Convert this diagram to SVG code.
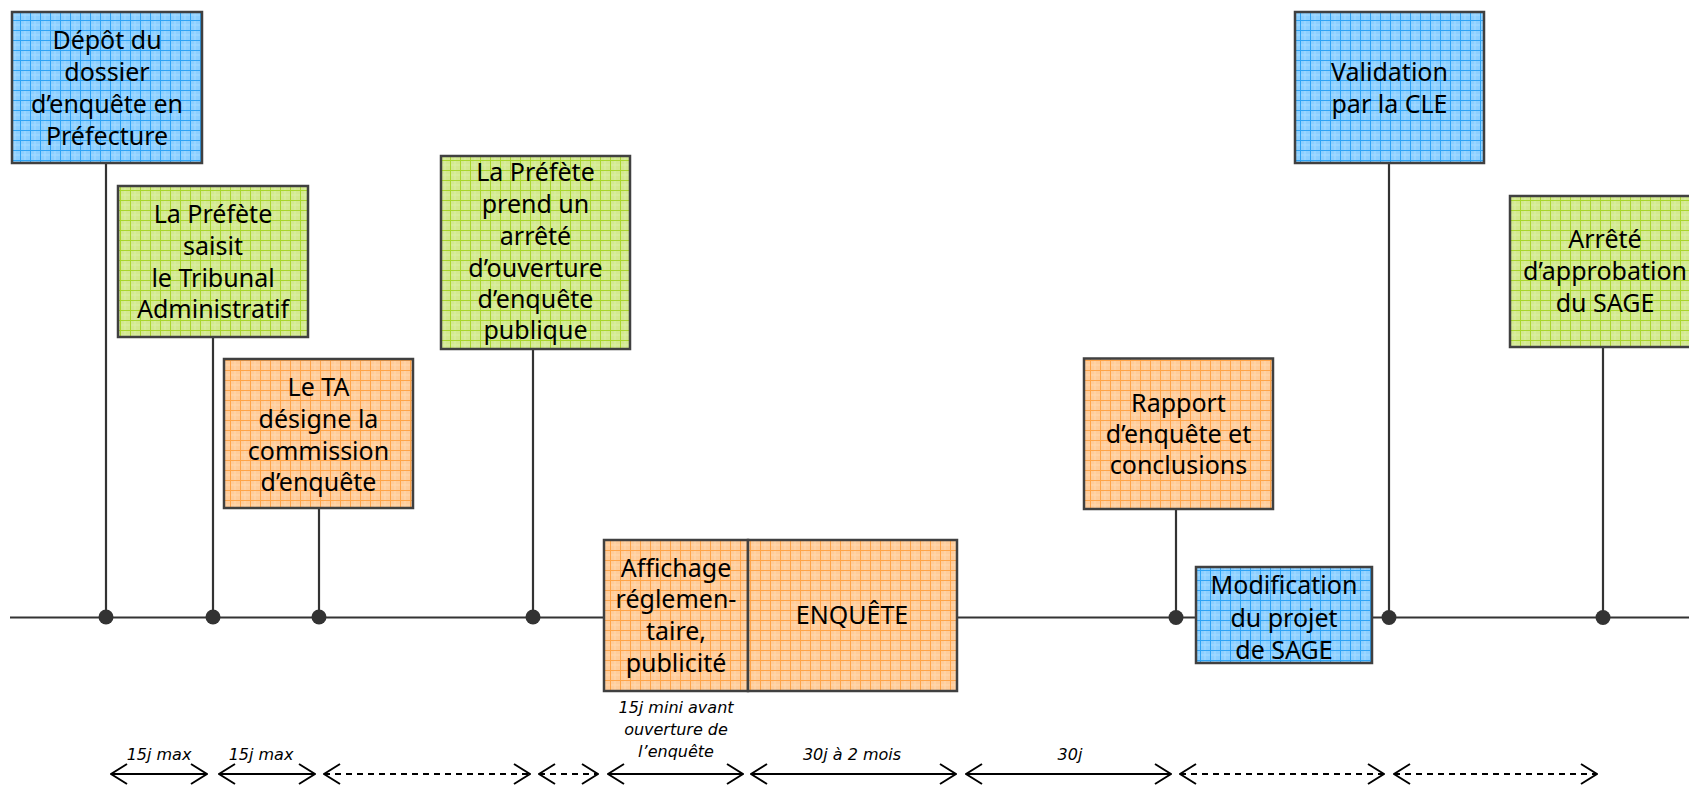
<svg xmlns="http://www.w3.org/2000/svg" width="1689" height="786" viewBox="0 0 1689 786">
<style>
  .box { stroke: #404040; stroke-width: 2.5; }
  .blue { fill: url(#gBlue); }
  .green { fill: url(#gGreen); }
  .orange { fill: url(#gOrange); }
  .t { font-family: "Noto Sans", "DejaVu Sans", sans-serif; font-size: 25px; fill: #000; text-anchor: middle; }
  .lbl { font-family: "DejaVu Sans", "Noto Sans", sans-serif; font-size: 16px; font-style: italic; fill: #000; text-anchor: middle; }
  .axis { stroke: #333; stroke-width: 2.2; fill: none; }
  .dot { fill: #333; }
  .arr { stroke: #000; stroke-width: 2; fill: none; marker-start: url(#ah); marker-end: url(#ah); }
  .dash { stroke-dasharray: 6 5; }
</style>
<defs>
  <pattern id="gBlue" width="10" height="10" patternUnits="userSpaceOnUse">
    <rect width="10" height="10" fill="#8ccfff"/>
    <path d="M0,5 H10 M5,0 V10" stroke="#a6dbff" stroke-width="1"/>
    <path d="M0,0.5 H10 M0.5,0 V10" stroke="#2ea3f5" stroke-width="1"/>
  </pattern>
  <pattern id="gGreen" width="10" height="10" patternUnits="userSpaceOnUse">
    <rect width="10" height="10" fill="#d3e98f"/>
    <path d="M0,5 H10 M5,0 V10" stroke="#dcefa6" stroke-width="1"/>
    <path d="M0,0.5 H10 M0.5,0 V10" stroke="#a9d62c" stroke-width="1"/>
  </pattern>
  <pattern id="gOrange" width="10" height="10" patternUnits="userSpaceOnUse">
    <rect width="10" height="10" fill="#ffcc9a"/>
    <path d="M0,5 H10 M5,0 V10" stroke="#ffd8b0" stroke-width="1"/>
    <path d="M0,0.5 H10 M0.5,0 V10" stroke="#ffa448" stroke-width="1"/>
  </pattern>
  <marker id="ah" viewBox="0 0 18 22" refX="17" refY="11" markerWidth="18" markerHeight="22" markerUnits="userSpaceOnUse" orient="auto-start-reverse">
    <path d="M1,1 L17,11 L1,21" fill="none" stroke="#000" stroke-width="2" stroke-dasharray="none"/>
  </marker>
</defs>

<g id="connectors">
  <line class="axis" x1="10" y1="617.5" x2="1689" y2="617.5"/>
  <line class="axis" x1="106" y1="163" x2="106" y2="617"/>
  <line class="axis" x1="213" y1="337" x2="213" y2="617"/>
  <line class="axis" x1="319" y1="508" x2="319" y2="617"/>
  <line class="axis" x1="533" y1="349" x2="533" y2="617"/>
  <line class="axis" x1="1176" y1="509" x2="1176" y2="617"/>
  <line class="axis" x1="1389" y1="163" x2="1389" y2="617"/>
  <line class="axis" x1="1603" y1="347" x2="1603" y2="617"/>
  <circle class="dot" cx="106" cy="617" r="7.5"/>
  <circle class="dot" cx="213" cy="617" r="7.5"/>
  <circle class="dot" cx="319" cy="617" r="7.5"/>
  <circle class="dot" cx="533" cy="617" r="7.5"/>
  <circle class="dot" cx="1176" cy="617.5" r="7.5"/>
  <circle class="dot" cx="1389" cy="617.5" r="7.5"/>
  <circle class="dot" cx="1603" cy="617.5" r="7.5"/>
</g>

<g id="n-depot">
  <rect class="box blue" x="12" y="12" width="190" height="151"/>
  <text class="t" x="107" y="49">Dépôt du</text>
  <text class="t" x="107" y="81">dossier</text>
  <text class="t" x="107" y="113">d’enquête en</text>
  <text class="t" x="107" y="145">Préfecture</text>
</g>

<g id="n-saisit">
  <rect class="box green" x="118" y="186" width="190" height="151"/>
  <text class="t" x="213" y="223">La Préfète</text>
  <text class="t" x="213" y="255">saisit</text>
  <text class="t" x="213" y="287">le Tribunal</text>
  <text class="t" x="213" y="318">Administratif</text>
</g>

<g id="n-ta">
  <rect class="box orange" x="224" y="359" width="189" height="149"/>
  <text class="t" x="318.5" y="396">Le TA</text>
  <text class="t" x="318.5" y="428">désigne la</text>
  <text class="t" x="318.5" y="459.5">commission</text>
  <text class="t" x="318.5" y="491">d’enquête</text>
</g>

<g id="n-arrete-ouverture">
  <rect class="box green" x="441" y="156" width="189" height="193"/>
  <text class="t" x="535.5" y="181">La Préfète</text>
  <text class="t" x="535.5" y="213">prend un</text>
  <text class="t" x="535.5" y="245">arrêté</text>
  <text class="t" x="535.5" y="277">d’ouverture</text>
  <text class="t" x="535.5" y="308">d’enquête</text>
  <text class="t" x="535.5" y="339">publique</text>
</g>

<g id="n-affichage">
  <rect class="box orange" x="604" y="540" width="144" height="151"/>
  <text class="t" x="676" y="577">Affichage</text>
  <text class="t" x="676" y="608">réglemen-</text>
  <text class="t" x="676" y="640">taire,</text>
  <text class="t" x="676" y="672">publicité</text>
</g>

<g id="n-enquete">
  <rect class="box orange" x="748" y="540" width="209" height="151"/>
  <text class="t" x="852" y="624">ENQUÊTE</text>
</g>

<g id="n-rapport">
  <rect class="box orange" x="1084" y="358.5" width="189" height="150.5"/>
  <text class="t" x="1178.5" y="412">Rapport</text>
  <text class="t" x="1178.5" y="443">d’enquête et</text>
  <text class="t" x="1178.5" y="474">conclusions</text>
</g>

<g id="n-modification">
  <rect class="box blue" x="1196" y="567" width="176" height="96"/>
  <text class="t" x="1284" y="594">Modification</text>
  <text class="t" x="1284" y="627">du projet</text>
  <text class="t" x="1284" y="659">de SAGE</text>
</g>

<g id="n-validation">
  <rect class="box blue" x="1295" y="12" width="189" height="151"/>
  <text class="t" x="1389.5" y="81">Validation</text>
  <text class="t" x="1389.5" y="112.5">par la CLE</text>
</g>

<g id="n-approbation">
  <rect class="box green" x="1510" y="196" width="190" height="151"/>
  <text class="t" x="1605" y="248">Arrêté</text>
  <text class="t" x="1605" y="280">d’approbation</text>
  <text class="t" x="1605" y="312">du SAGE</text>
</g>

<g id="durations">
  <line class="arr" x1="111" y1="774" x2="207" y2="774"/>
  <line class="arr" x1="219" y1="774" x2="315" y2="774"/>
  <line class="arr dash" x1="324" y1="774" x2="530" y2="774"/>
  <line class="arr dash" x1="539" y1="774" x2="598" y2="774"/>
  <line class="arr" x1="608" y1="774" x2="743" y2="774"/>
  <line class="arr" x1="751" y1="774" x2="956" y2="774"/>
  <line class="arr" x1="966" y1="774" x2="1171" y2="774"/>
  <line class="arr dash" x1="1180" y1="774" x2="1384" y2="774"/>
  <line class="arr dash" x1="1394" y1="774" x2="1597" y2="774"/>
  <text class="lbl" x="159" y="760">15j max</text>
  <text class="lbl" x="261" y="760">15j max</text>
  <text class="lbl" x="676" y="712.5">15j mini avant</text>
  <text class="lbl" x="676" y="734.5">ouverture de</text>
  <text class="lbl" x="676" y="756.5">l’enquête</text>
  <text class="lbl" x="852" y="760">30j à 2 mois</text>
  <text class="lbl" x="1070" y="760">30j</text>
</g>
</svg>
